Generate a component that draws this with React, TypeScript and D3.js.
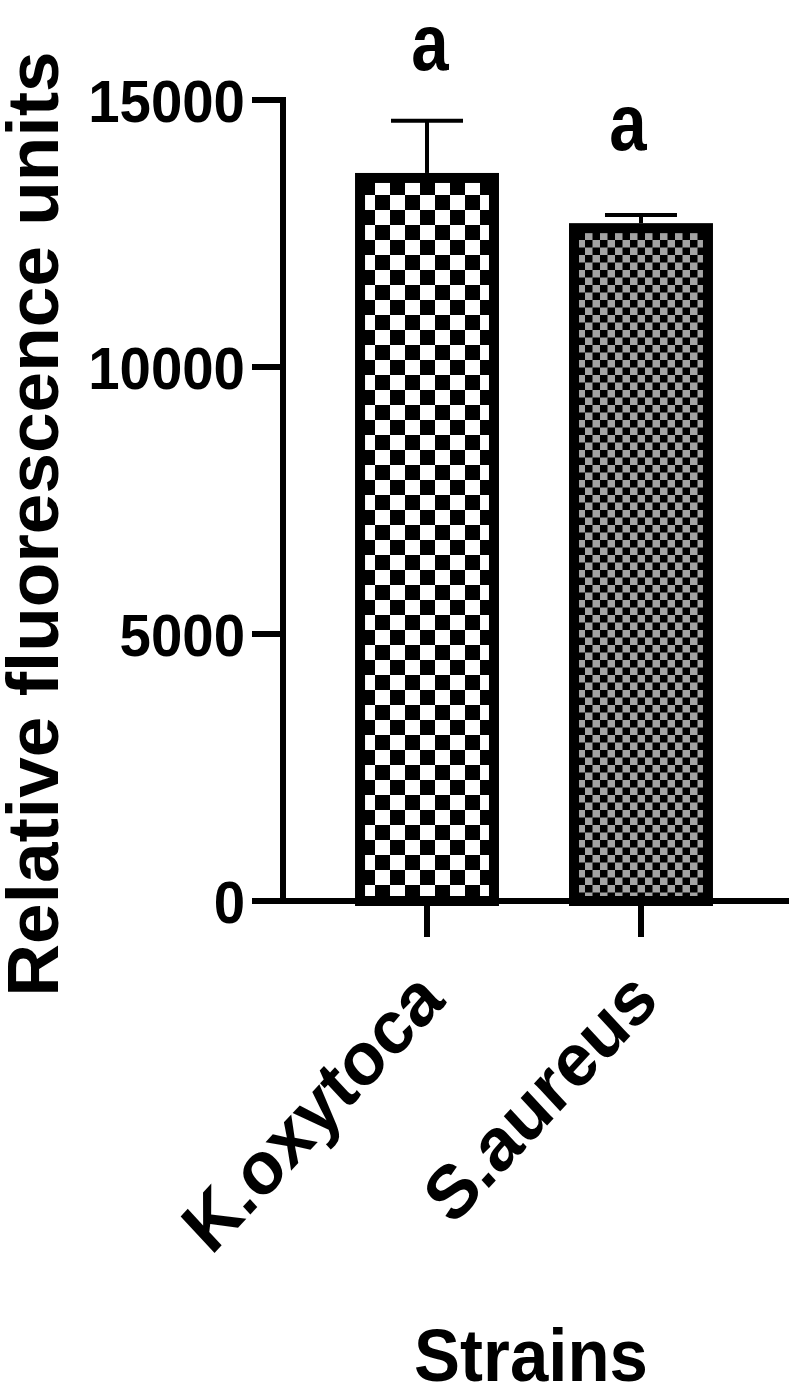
import React from 'react'
import * as d3 from 'd3'

// data
const strains = ['K.oxytoca', 'S.aureus']
const meanRfu = [13540, 12600]
const upperError = [1070, 245]
const groupLetters = ['a', 'a']
const letterLevel = [15560, 14060]
const yTickValues = [0, 5000, 10000, 15000]

const App = () => {
  const width = 789,
    height = 1387

  const font = '"Liberation Sans", Arial, Helvetica, sans-serif'

  // plot area
  const left = 283,
    top = 100,
    bottom = 901

  const y = d3.scaleLinear().domain([0, 15000]).range([bottom, top])

  const x = d3
    .scaleBand()
    .domain(strains)
    .range([left, 785])
    .paddingInner(0.374)
    .paddingOuter(0.36)

  const bw = x.bandwidth()
  const patterns = ['checkBig', 'checkSmall']
  // letters were placed by hand in the original, not exactly centred
  const letterDx = [3, -13]

  return (
    <svg
      width={width}
      height={height}
      style={{ position: 'absolute', left: 0, top: 0, display: 'block', background: '#fff' }}
      fontFamily={font}
      fontWeight="bold"
    >
      <defs>
        <pattern id="checkBig" patternUnits="userSpaceOnUse" width="30" height="30">
          <rect width="30" height="30" fill="#fff" />
          <rect x="0" y="0" width="15" height="15" fill="#000" />
          <rect x="15" y="15" width="15" height="15" fill="#000" />
        </pattern>
        <pattern id="checkSmall" patternUnits="userSpaceOnUse" width="15" height="15">
          <rect width="15" height="15" fill="#a4a4a4" />
          <rect x="0" y="0" width="7.5" height="7.5" fill="#000" />
          <rect x="7.5" y="7.5" width="7.5" height="7.5" fill="#000" />
        </pattern>
      </defs>

      {/* bars */}
      {strains.map((s, i) => (
        <rect
          key={s}
          x={x(s)}
          y={y(meanRfu[i])}
          width={bw}
          height={y(0) - y(meanRfu[i])}
          fill={`url(#${patterns[i]})`}
          stroke="#000"
          strokeWidth={10}
        />
      ))}

      {/* error bars (upper only) */}
      {strains.map((s, i) => {
        const cx = x(s) + bw / 2
        const yTop = y(meanRfu[i] + upperError[i])
        return (
          <g key={s} stroke="#000" strokeWidth={4}>
            <line x1={cx} x2={cx} y1={y(meanRfu[i]) - 5} y2={yTop} />
            <line x1={cx - 36} x2={cx + 36} y1={yTop} y2={yTop} />
          </g>
        )
      })}

      {/* significance letters */}
      {strains.map((s, i) => {
        const cx = x(s) + bw / 2 + letterDx[i]
        return (
          <text
            key={s}
            transform={`translate(${cx},${y(letterLevel[i])}) scale(0.84,1)`}
            textAnchor="middle"
            fontSize={80}
          >
            {groupLetters[i]}
          </text>
        )
      })}

      {/* y axis */}
      <line x1={left} x2={left} y1={top - 3} y2={bottom} stroke="#000" strokeWidth={6} />
      {yTickValues.map(t => (
        <g key={t}>
          <line x1={252} x2={left} y1={y(t)} y2={y(t)} stroke="#000" strokeWidth={6} />
          <text
            transform={`translate(245,${y(t) + 22}) scale(0.94,1)`}
            textAnchor="end"
            fontSize={60}
          >
            {t}
          </text>
        </g>
      ))}

      {/* x axis */}
      <line x1={left - 3} x2={width} y1={bottom} y2={bottom} stroke="#000" strokeWidth={6} />
      {strains.map(s => {
        const cx = x(s) + bw / 2
        return (
          <g key={s}>
            <line x1={cx} x2={cx} y1={bottom} y2={937} stroke="#000" strokeWidth={6} />
            <text
              transform={`translate(${cx + 20},1003) scale(0.93,1) rotate(-45)`}
              textAnchor="end"
              fontSize={75}
            >
              {s}
            </text>
          </g>
        )
      })}

      {/* axis titles */}
      <text transform="translate(58,524) rotate(-90)" textAnchor="middle" fontSize={73}>
        Relative fluorescence units
      </text>
      <text transform="translate(531,1381) scale(0.92,1)" textAnchor="middle" fontSize={75}>
        Strains
      </text>
    </svg>
  )
}

export default App
